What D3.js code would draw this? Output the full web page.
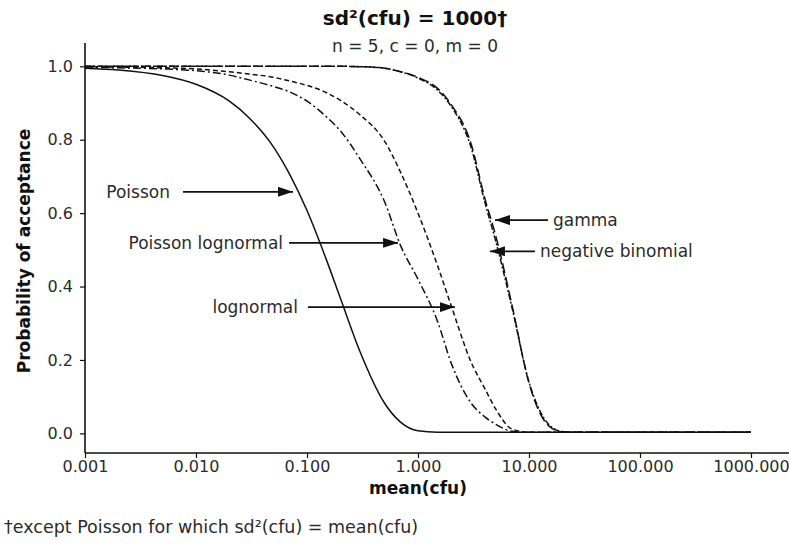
<!DOCTYPE html>
<html>
<head>
<meta charset="utf-8">
<script src="https://cdn.jsdelivr.net/npm/d3@7/dist/d3.min.js"></script>
<style>
  html, body { margin: 0; padding: 0; background: #fff; }
  svg { display: block; font-family: "DejaVu Sans", Verdana, sans-serif; }
</style>
</head>
<body>
<svg id="chart" width="789" height="546"></svg>
<script>
// Mean colony-forming units at which each acceptance curve is tabulated
const meanCfu = [0.001, 0.002, 0.005, 0.01, 0.02, 0.03, 0.05, 0.07, 0.1, 0.15, 0.2, 0.3,
                 0.5, 0.7, 1, 1.5, 2, 3, 4, 5, 7, 10, 15, 20, 30, 100, 1000];

// Probability of acceptance for each count distribution
const poisson =          [0.995, 0.99, 0.975, 0.951, 0.905, 0.86, 0.78, 0.705, 0.607, 0.472, 0.368, 0.223,
                          0.082, 0.03, 0.007, 0.003, 0.003, 0.003, 0.003, 0.003, 0.003, 0.003, 0.003, 0.003, 0.003, 0.003, 0.003];
const poissonLognormal = [0.998, 0.996, 0.993, 0.988, 0.976, 0.963, 0.945, 0.93, 0.905, 0.862, 0.824, 0.748,
                          0.631, 0.51, 0.42, 0.305, 0.19, 0.083, 0.045, 0.025, 0.006, 0.003, 0.003, 0.003, 0.003, 0.003, 0.003];
const lognormal =        [0.999, 0.998, 0.996, 0.993, 0.985, 0.979, 0.97, 0.96, 0.948, 0.928, 0.907, 0.868,
                          0.796, 0.71, 0.60, 0.457, 0.346, 0.195, 0.122, 0.067, 0.012, 0.003, 0.003, 0.003, 0.003, 0.003, 0.003];
const gamma =            [1, 1, 1, 1, 1, 1, 1, 1, 1, 1, 1, 0.999,
                          0.995, 0.985, 0.97, 0.94, 0.895, 0.79, 0.64, 0.54, 0.352, 0.137, 0.021, 0.004, 0.003, 0.003, 0.003];
const negativeBinomial = [1, 1, 1, 1, 1, 1, 1, 1, 1, 1, 1, 0.999,
                          0.995, 0.985, 0.968, 0.935, 0.89, 0.78, 0.63, 0.525, 0.345, 0.14, 0.025, 0.005, 0.003, 0.003, 0.003];

const xTicks = [0.001, 0.01, 0.1, 1, 10, 100, 1000];
const xTickLabels = ["0.001", "0.010", "0.100", "1.000", "10.000", "100.000", "1000.000"];
const yTicks = [0, 0.2, 0.4, 0.6, 0.8, 1.0];
const yTickLabels = ["0.0", "0.2", "0.4", "0.6", "0.8", "1.0"];

// Curve annotations: label text and the point (mean, probability) the arrow points at
const annLabels = ["Poisson", "Poisson lognormal", "lognormal", "gamma", "negative binomial"];
const annMean = [0.0748, 0.661, 2.15, 4.94, 4.45];
const annProb = [0.658, 0.519, 0.344, 0.581, 0.496];

const svg = d3.select("#chart");
const W = 789, H = 546;
svg.append("rect").attr("width", W).attr("height", H).attr("fill", "#fff");

const x = d3.scaleLog().domain([0.001, 1000]).range([85, 751]);
const y = d3.scaleLinear().domain([-0.0535, 1.0635]).range([453, 43]);

const ink = "#111", textInk = "#2b2b2b";
const font = "DejaVu Sans, Verdana, sans-serif";

// Axis frame
const gx = svg.append("g").attr("transform", `translate(0,${y.range()[0]})`)
  .call(d3.axisBottom(x).tickValues(xTicks).tickFormat((d, i) => xTickLabels[i]).tickSize(5).tickPadding(3));
gx.select(".domain").remove();
gx.append("line").attr("x1", x(0.001)).attr("x2", W).attr("y1", 0).attr("y2", 0)
  .attr("stroke", ink).attr("stroke-width", 1.6);
gx.selectAll(".tick line").attr("stroke", ink).attr("stroke-width", 1.2);
gx.selectAll(".tick text").attr("fill", textInk).attr("font-size", 16).attr("font-family", font);

const gy = svg.append("g").attr("transform", `translate(${x(0.001)},0)`)
  .call(d3.axisLeft(y).tickValues(yTicks).tickFormat((d, i) => yTickLabels[i]).tickSize(5).tickPadding(7));
gy.select(".domain").remove();
gy.append("line").attr("x1", 0).attr("x2", 0).attr("y1", y.range()[1]).attr("y2", y.range()[0])
  .attr("stroke", ink).attr("stroke-width", 1.6);
gy.selectAll(".tick line").attr("stroke", ink).attr("stroke-width", 1.2);
gy.selectAll(".tick text").attr("fill", textInk).attr("font-size", 16).attr("font-family", font);

// Acceptance curves
const series = [
  { values: lognormal, dash: "5,3" },
  { values: poissonLognormal, dash: "8,3,2,3" },
  { values: negativeBinomial, dash: "6,2,2,2" },
  { values: gamma, dash: "10,4" },
  { values: poisson, dash: null }
];
const line = d3.line()
  .x(d => x(d[0]))
  .y(d => y(d[1]))
  .curve(d3.curveMonotoneX);

series.forEach(s => {
  svg.append("path")
    .datum(meanCfu.map((m, i) => [m, s.values[i]]))
    .attr("d", line)
    .attr("fill", "none")
    .attr("stroke", ink)
    .attr("stroke-width", 1.5)
    .attr("stroke-dasharray", s.dash);
});

// Annotation arrows and labels
const defs = svg.append("defs");
defs.append("marker").attr("id", "head").attr("viewBox", "0 0 15 10")
  .attr("refX", 15).attr("refY", 5).attr("markerWidth", 15).attr("markerHeight", 10)
  .attr("markerUnits", "userSpaceOnUse").attr("orient", "auto")
  .append("path").attr("d", "M0,0 L15,5 L0,10 Z").attr("fill", ink);

// side of each label (-1: label left of the curve), arrow length and text gap
const annSide = [-1, -1, -1, 1, 1];
const annLen = [110, 109, 147, 53, 45];
const annGap = [13, 6, 10, 5, 5];
annLabels.forEach((lab, i) => {
  const tx = x(annMean[i]), ty = y(annProb[i]);
  const sx = tx + annSide[i] * annLen[i];
  svg.append("line").attr("x1", sx).attr("y1", ty).attr("x2", tx).attr("y2", ty)
    .attr("stroke", ink).attr("stroke-width", 1.8).attr("marker-end", "url(#head)");
  svg.append("text")
    .attr("x", sx + annSide[i] * annGap[i])
    .attr("y", ty + 6)
    .attr("text-anchor", annSide[i] < 0 ? "end" : "start")
    .attr("font-size", 17).attr("fill", textInk)
    .text(lab);
});

// Titles
svg.append("text").attr("x", 415).attr("y", 25).attr("text-anchor", "middle")
  .attr("font-size", 20).attr("font-weight", "bold").attr("fill", ink)
  .text("sd²(cfu) = 1000†");
svg.append("text").attr("x", 415).attr("y", 52).attr("text-anchor", "middle")
  .attr("font-size", 17).attr("fill", textInk)
  .text("n = 5, c = 0, m = 0");

svg.append("text").attr("x", 418).attr("y", 494).attr("text-anchor", "middle")
  .attr("font-size", 17).attr("font-weight", "bold").attr("fill", ink)
  .text("mean(cfu)");

svg.append("text").attr("transform", "translate(30,251) rotate(-90)").attr("text-anchor", "middle")
  .attr("font-size", 17).attr("font-weight", "bold").attr("fill", ink)
  .text("Probability of acceptance");

svg.append("text").attr("x", 4).attr("y", 533)
  .attr("font-size", 17.5).attr("fill", textInk)
  .text("†except Poisson for which sd²(cfu) = mean(cfu)");
</script>
</body>
</html>
